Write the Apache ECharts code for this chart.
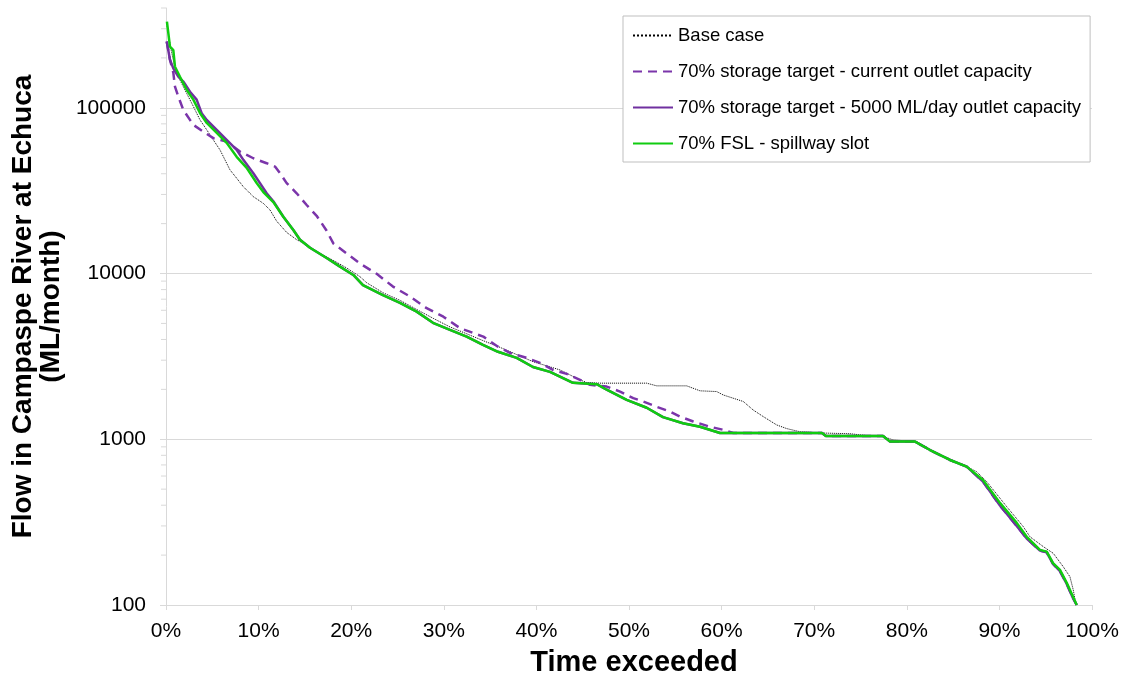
<!DOCTYPE html>
<html>
<head>
<meta charset="utf-8">
<script src="https://cdn.jsdelivr.net/npm/echarts@6/dist/echarts.min.js"></script>
<style>
html,body{margin:0;padding:0;background:#fff;}
#chart{width:1126px;height:677px;}
</style>
</head>
<body>
<div id="chart"></div>
<script>
// ---- Data: [time exceeded (%), flow (ML/month)] ----
const seriesNames = [
  'Base case',
  '70% storage target - current outlet capacity',
  '70% storage target - 5000 ML/day outlet capacity',
  '70% FSL - spillway slot'
];
const xTickLabels = ['0%','10%','20%','30%','40%','50%','60%','70%','80%','90%','100%'];
const yTickLabels = ['100','1000','10000','100000'];
const yMinorTicks = [200,300,400,500,600,700,800,900,2000,3000,4000,5000,6000,7000,8000,9000,
  20000,30000,40000,50000,60000,70000,80000,90000,200000,300000,400000];

const baseCase = [[0.1,320000],[0.5,230000],[1.0,172000],[1.51,147000],[2.24,122000],[2.95,102000],[3.67,84500],[4.40,73600],[5.11,64000],[5.83,55700],[6.37,48500],[6.91,42200],[7.63,37600],[8.35,33400],[9.43,29100],[10.51,26500],[11.23,24200],[11.95,20700],[13.03,17700],[14.11,16000],[15.19,14900],[16.63,13200],[18.07,12000],[19.51,10800],[20.95,9570],[21.67,8800],[23.47,7640],[25.27,6890],[27.07,6070],[28.87,5360],[30.67,4760],[32.47,4330],[34.27,3930],[35.85,3630],[39.63,2940],[42.55,2620],[44.71,2280],[45.43,2200],[46.87,2180],[51.91,2180],[52.99,2100],[56.23,2100],[57.67,1960],[59.47,1940],[60.18,1850],[62.34,1690],[63.42,1500],[64.50,1370],[65.95,1220],[67.03,1160],[68.47,1110],[70.99,1090],[73.87,1080],[76.03,1047],[77.43,1040],[78.51,991],[81.07,968],[83.23,823],[86.10,700],[87.55,637],[88.63,555],[90.79,392],[92.58,297],[93.30,258],[94.74,225],[95.82,205],[96.90,170],[97.62,148],[97.98,123],[98.27,100]];

const storageCurrent = [[0.08,251000],[0.43,195000],[0.79,163000],[0.97,134000],[1.33,117000],[1.87,97000],[2.59,84500],[2.95,78900],[4.03,71800],[5.11,65600],[6.55,62500],[7.99,54400],[9.43,49600],[10.87,46300],[11.77,44200],[12.31,40300],[13.03,35100],[14.11,30500],[15.19,25900],[16.27,22300],[17.35,18100],[18.07,15200],[19.51,13200],[20.95,11500],[22.75,9960],[24.51,8340],[26.35,7260],[28.15,6180],[29.95,5490],[31.75,4680],[34.27,4160],[35.85,3620],[37.15,3320],[38.95,3100],[40.39,2890],[41.79,2620],[43.27,2480],[44.71,2280],[45.79,2130],[47.59,2080],[49.03,1940],[50.46,1770],[51.54,1690],[52.99,1570],[54.43,1470],[55.51,1370],[56.94,1280],[58.75,1190],[60.18,1140],[61.26,1090],[70.84,1090],[71.27,1047],[77.43,1047],[78.19,968],[80.89,968],[82.51,861],[84.67,750],[86.47,684],[88.23,555],[90.06,398],[91.87,300],[92.95,252],[94.38,213],[95.11,208],[95.79,177],[96.54,160],[97.27,134],[97.95,110],[98.35,100]];

const storage5000 = [[0.08,251000],[0.43,195000],[0.79,173000],[1.33,154000],[1.87,144000],[2.59,125000],[3.31,112000],[3.85,92700],[4.40,84500],[5.48,73600],[6.55,64100],[7.63,55800],[8.35,48500],[9.43,40300],[10.15,35100],[10.87,30500],[11.59,27300],[12.67,22000],[13.75,18300],[14.47,16000],[15.55,14300],[17.35,12400],[18.79,11000],[20.23,9800],[21.27,8500],[23.43,7400],[25.27,6650],[27.07,5890],[28.83,5040],[30.67,4570],[32.47,4160],[34.23,3710],[35.85,3370],[37.87,3100],[39.63,2730],[41.47,2550],[43.95,2190],[46.51,2150],[47.59,1990],[49.75,1730],[51.91,1550],[53.67,1360],[55.83,1250],[57.67,1190],[59.83,1090],[70.84,1090],[71.27,1047],[77.43,1047],[78.19,968],[80.89,968],[82.51,861],[84.67,750],[86.47,684],[88.23,555],[90.06,398],[91.87,300],[92.95,252],[94.38,213],[95.11,208],[95.79,177],[96.54,160],[97.27,134],[97.95,110],[98.35,100]];

const fslSpillway = [[0.1,331000],[0.43,234000],[0.79,223000],[0.97,177000],[1.51,154000],[2.24,128000],[2.95,112000],[3.67,93000],[4.40,81000],[5.48,70600],[6.55,61400],[7.63,50600],[8.71,43400],[9.79,35200],[10.51,31000],[11.59,27000],[12.67,22000],[13.75,18300],[14.47,16000],[15.55,14300],[17.35,12400],[18.79,11000],[20.23,9800],[21.27,8500],[23.43,7400],[25.27,6650],[27.07,5890],[28.83,5040],[30.67,4570],[32.47,4160],[34.23,3710],[35.85,3370],[37.87,3100],[39.63,2730],[41.47,2550],[43.95,2190],[46.51,2150],[47.59,1990],[49.75,1730],[51.91,1550],[53.67,1360],[55.83,1250],[57.67,1190],[59.83,1090],[70.84,1090],[71.27,1047],[77.43,1047],[78.19,968],[80.89,968],[82.51,861],[84.67,750],[86.47,684],[88.23,568],[90.06,413],[91.87,313],[92.95,258],[94.38,215],[95.11,210],[95.79,179],[96.54,163],[97.27,136],[97.95,112],[98.35,100]];

const FONT = '"Liberation Sans", Arial, sans-serif';
const GRID_COLOR = '#d9d9d9';

const chart = echarts.init(document.getElementById('chart'), null, {renderer: 'canvas'});

const option = {
  animation: false,
  backgroundColor: '#ffffff',
  textStyle: {fontFamily: FONT},
  grid: {left: 166, right: 34, top: 8, bottom: 72, containLabel: false, outerBoundsMode: 'none'},
  legend: {
    orient: 'vertical',
    left: 623, top: 16,
    padding: [10, 9, 9, 9],
    itemWidth: 40, itemHeight: 14, itemGap: 17,
    backgroundColor: '#ffffff',
    borderColor: '#bfbfbf', borderWidth: 1, borderRadius: 0,
    itemStyle: {opacity: 0},
    textStyle: {fontFamily: FONT, fontSize: 18.5, color: '#000'},
    data: seriesNames
  },
  xAxis: {
    type: 'value', min: 0, max: 100, interval: 10,
    name: 'Time exceeded', nameLocation: 'middle', nameGap: 43,
    nameTextStyle: {fontFamily: FONT, fontSize: 29, fontWeight: 'bold', color: '#000', padding: [0, 0, 0, 10]},
    axisLine: {show: true, lineStyle: {color: GRID_COLOR, width: 1}},
    axisTick: {show: true, length: 5, lineStyle: {color: GRID_COLOR}},
    axisLabel: {fontFamily: FONT, fontSize: 21, color: '#000', margin: 16,
      formatter: v => xTickLabels[Math.round(v / 10)]},
    splitLine: {show: false}
  },
  yAxis: {
    type: 'log', logBase: 10, min: 100, max: 400000,
    name: 'Flow in Campaspe River at Echuca\n(ML/month)',
    nameLocation: 'middle', nameGap: 100, nameRotate: 90,
    nameTextStyle: {fontFamily: FONT, fontSize: 28, fontWeight: 'bold', color: '#000', lineHeight: 28},
    axisLine: {show: true, lineStyle: {color: GRID_COLOR, width: 1}},
    axisTick: {show: true, length: 6, lineStyle: {color: GRID_COLOR}},
    axisLabel: {fontFamily: FONT, fontSize: 21, color: '#000', margin: 20, showMaxLabel: false,
      formatter: v => {
        const s = String(Math.round(v));
        return yTickLabels.indexOf(s) >= 0 ? s : '';
      }},
    splitLine: {show: true, showMaxLine: false, lineStyle: {color: GRID_COLOR, width: 1}}
  },
  series: [
    {
      name: seriesNames[0], type: 'line', data: baseCase, showSymbol: false, symbol: 'none',
      color: '#000000',
      lineStyle: {color: '#000000', width: 1, type: 'dotted'}, z: 2
    },
    {
      name: seriesNames[1], type: 'line', data: storageCurrent, showSymbol: false, symbol: 'none',
      color: '#7b35aa',
      lineStyle: {color: '#7b35aa', width: 2.5, type: [9, 6]}, z: 3
    },
    {
      name: seriesNames[2], type: 'line', data: storage5000, showSymbol: false, symbol: 'none',
      color: '#7030a0',
      lineStyle: {color: '#7030a0', width: 2.5}, z: 4
    },
    {
      name: seriesNames[3], type: 'line', data: fslSpillway, showSymbol: false, symbol: 'none',
      color: '#10cc10',
      lineStyle: {color: '#10cc10', width: 2.5}, z: 5
    },
    {
      type: 'custom', silent: true, clip: false, z: 1,
      data: yMinorTicks.map(v => [0, v]),
      renderItem: (params, api) => {
        const p = api.coord([0, api.value(1)]);
        return {
          type: 'line',
          shape: {x1: p[0] - 5, y1: p[1], x2: p[0], y2: p[1]},
          style: {stroke: GRID_COLOR, lineWidth: 1}
        };
      }
    }
  ]
};
chart.setOption(option);
</script>
</body>
</html>
